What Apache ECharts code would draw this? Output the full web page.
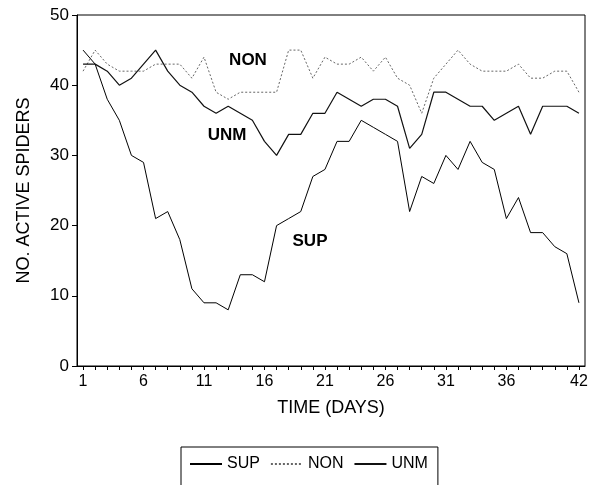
<!DOCTYPE html>
<html>
<head>
<meta charset="utf-8">
<script src="https://cdn.jsdelivr.net/npm/echarts@6/dist/echarts.min.js"></script>
<style>
html,body{margin:0;padding:0;background:#fff;}
#c{width:591px;height:485px;}
</style>
</head>
<body>
<div id="c"></div>
<script>
const days = Array.from({length: 42}, (_, i) => String(i + 1));
const labelDays = ['1','6','11','16','21','26','31','36','42'];
const sup = [45,43,38,35,30,29,21,22,18,11,9,9,8,13,13,12,20,21,22,27,28,32,32,35,34,33,32,22,27,26,30,28,32,29,28,21,24,19,19,17,16,9];
const non = [42,45,43,42,42,42,43,43,43,41,44,39,38,39,39,39,39,45,45,41,44,43,43,44,42,44,41,40,36,41,43,45,43,42,42,42,43,41,41,42,42,39];
const unm = [43,43,42,40,41,43,45,42,40,39,37,36,37,36,35,32,30,33,33,36,36,39,38,37,38,38,37,31,33,39,39,38,37,37,35,36,37,33,37,37,37,36];
const yTicks = [0,10,20,30,40,50];

const FONT = 'Liberation Sans';
const chart = echarts.init(document.getElementById('c'), null, {renderer: 'canvas'});
chart.setOption({
  animation: false,
  backgroundColor: '#fff',
  textStyle: {fontFamily: FONT, color: '#000'},
  grid: {left: 77, right: 6, top: 15, bottom: 119, show: true, borderColor: '#000', borderWidth: 1, backgroundColor: 'transparent'},
  xAxis: {
    type: 'category',
    data: days,
    boundaryGap: true,
    name: 'TIME (DAYS)',
    nameLocation: 'middle',
    nameGap: 33,
    nameTextStyle: {fontFamily: FONT, fontSize: 18, color: '#000'},
    axisLine: {lineStyle: {color: '#000', width: 1}},
    axisTick: {show: true, alignWithLabel: true, interval: 0, length: 4, lineStyle: {color: '#000'}},
    axisLabel: {
      interval: (idx, val) => labelDays.indexOf(val) >= 0,
      fontFamily: FONT, fontSize: 16, color: '#000', margin: 8
    },
    splitLine: {show: false}
  },
  yAxis: {
    type: 'value',
    min: yTicks[0], max: yTicks[yTicks.length - 1], interval: 10,
    name: 'NO. ACTIVE SPIDERS',
    nameLocation: 'middle',
    nameGap: 44,
    nameTextStyle: {fontFamily: FONT, fontSize: 18, color: '#000'},
    axisLine: {show: true, lineStyle: {color: '#000', width: 1}},
    axisTick: {show: true, length: 5, lineStyle: {color: '#000'}},
    axisLabel: {fontFamily: FONT, fontSize: 17, color: '#000', margin: 8},
    splitLine: {show: false}
  },
  legend: {
    left: 181, top: 447,
    data: ['SUP', 'NON', 'UNM'],
    borderColor: '#000', borderWidth: 1,
    padding: [9, 10, 30, 8],
    itemGap: 10,
    itemWidth: 32, itemHeight: 12,
    itemStyle: {opacity: 0},
    textStyle: {fontFamily: FONT, fontSize: 16, color: '#000'}
  },
  series: [
    {name: 'SUP', type: 'line', data: sup, symbol: 'none', lineStyle: {color: '#000', width: 1}, itemStyle: {color: '#000'}},
    {name: 'NON', type: 'line', data: non, symbol: 'none', lineStyle: {color: '#666', width: 1, type: [2, 2]}, itemStyle: {color: '#666'}},
    {name: 'UNM', type: 'line', data: unm, symbol: 'none', lineStyle: {color: '#111', width: 1.2}, itemStyle: {color: '#111'}}
  ],
  graphic: [
    {type: 'text', x: 248, y: 60, style: {text: 'NON', font: 'bold 17px "Liberation Sans"', fill: '#000', align: 'center', verticalAlign: 'middle'}},
    {type: 'text', x: 227, y: 135, style: {text: 'UNM', font: 'bold 17px "Liberation Sans"', fill: '#000', align: 'center', verticalAlign: 'middle'}},
    {type: 'text', x: 310, y: 241, style: {text: 'SUP', font: 'bold 17px "Liberation Sans"', fill: '#000', align: 'center', verticalAlign: 'middle'}}
  ]
});
</script>
</body>
</html>
